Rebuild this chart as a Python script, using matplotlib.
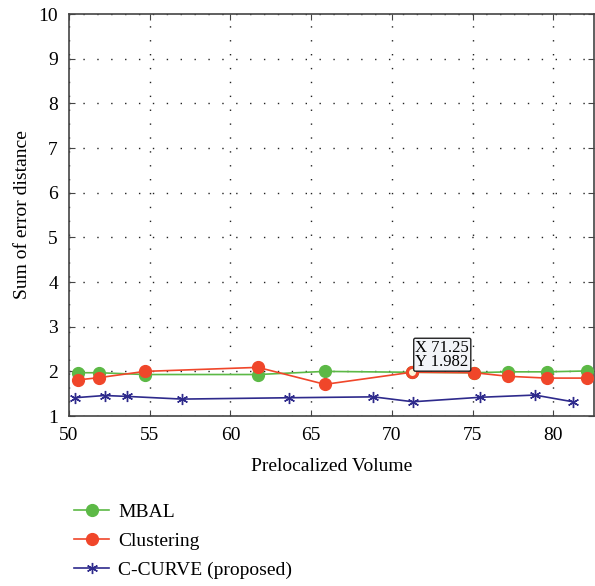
import numpy as np
import matplotlib
matplotlib.use('Agg')
import matplotlib.pyplot as plt
from matplotlib.lines import Line2D

plt.rcParams['font.family'] = ['Liberation Serif', 'DejaVu Serif']

# data
x_pts = [50.56, 51.86, 54.7, 61.7, 65.85, 71.25, 75.1, 77.2, 79.6, 82.1]
mbal = [1.97, 1.97, 1.93, 1.93, 2.0, 1.98, 1.97, 1.99, 1.99, 2.01]
clustering = [1.81, 1.86, 2.0, 2.09, 1.71, 1.982, 1.97, 1.89, 1.85, 1.85]

x_cc = [50.35, 52.2, 53.6, 57.0, 63.6, 68.85, 71.3, 75.45, 78.85, 81.2]
ccurve = [1.41, 1.46, 1.44, 1.38, 1.41, 1.43, 1.32, 1.42, 1.47, 1.32]

tip_x, tip_y = 71.25, 1.982

green = '#5cb946'
red = '#f0462a'
blue = '#2e2a8c'

fig = plt.figure(figsize=(5.95, 5.86), dpi=100)
ax = fig.add_axes([0.116, 0.290, 0.882, 0.686])

ax.plot(x_pts, mbal, '-o', color=green, ms=8.5, lw=1.2, zorder=3)
ax.plot(x_pts, clustering, '-o', color=red, ms=8.5, lw=1.2, zorder=4)
ax.plot(x_cc, ccurve, '-', color=blue, lw=1.2, zorder=3)
ax.plot(x_cc, ccurve, ls='none', marker=(6, 2, 0), color=blue, ms=8, mew=1.0, zorder=3)

# datatip
ax.plot([tip_x], [tip_y], 'o', ms=7, mfc='#fdf6d8', mec=red, mew=2, zorder=5)
ax.text(tip_x + 0.2, tip_y + 0.06, 'X 71.25\nY 1.982', fontsize=12, linespacing=0.8,
        va='bottom', ha='left', zorder=6,
        bbox=dict(boxstyle='round,pad=0.1,rounding_size=0.1', fc='#f2f4f8', ec='#222222', lw=1))

ax.set_xlim(50, 82.5)
ax.set_ylim(1, 10)
ax.set_xticks([50, 55, 60, 65, 70, 75, 80])
ax.set_yticks(range(1, 11))
ax.grid(True, ls=(0, (1, 9)), color='#222222', lw=1.0)
ax.tick_params(direction='in', top=True, right=True, labelsize=14, length=4, color='#444444')
ax.tick_params(axis='x', pad=8)
ax.tick_params(axis='y', pad=8)
for s in ax.spines.values():
    s.set_color('#444444')
    s.set_linewidth(1.2)

ax.set_xlabel('Prelocalized Volume', fontsize=14, labelpad=10)
ax.set_ylabel('Sum of error distance', fontsize=14, labelpad=5)

handles = [
    Line2D([], [], color=green, marker='o', ms=8.5, lw=1.2),
    Line2D([], [], color=red, marker='o', ms=8.5, lw=1.2),
    Line2D([], [], color=blue, marker=(6, 2, 0), ms=8, lw=1.2),
]
fig.legend(handles, ['MBAL', 'Clustering', 'C-CURVE (proposed)'], loc='upper left',
           bbox_to_anchor=(0.112, 0.155), frameon=False, fontsize=14,
           handlelength=1.8, labelspacing=0.6, handletextpad=0.45, borderaxespad=0)

fig.savefig('out.png', dpi=100)
